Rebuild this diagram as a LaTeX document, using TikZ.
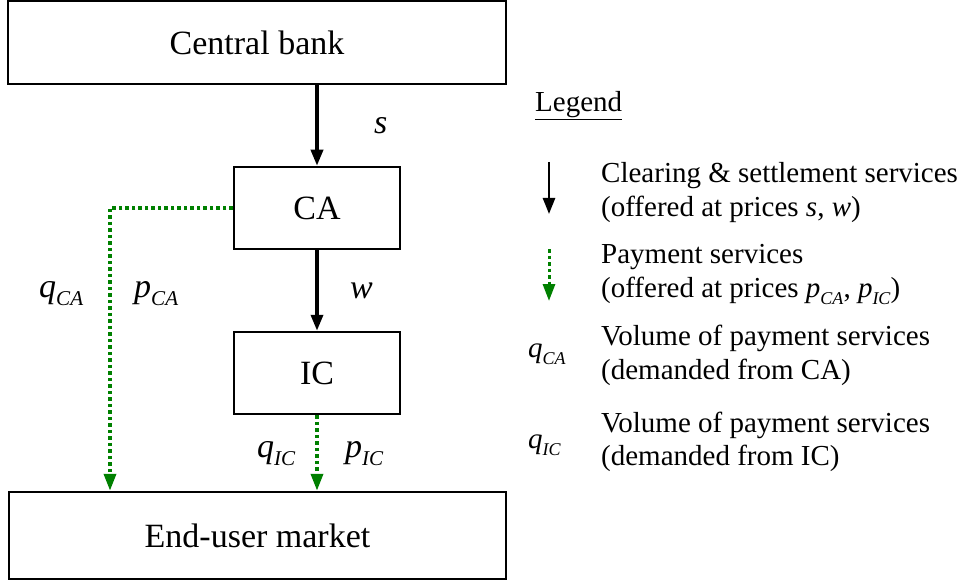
\documentclass[tikz,border=0pt]{standalone}
\usepackage{fontspec}
\setmainfont{Liberation Serif}
\usetikzlibrary{arrows.meta}
\definecolor{paygreen}{RGB}{0,128,0}
\newcommand{\pricevar}[2]{\textit{#1}\raisebox{-0.25em}{\scalebox{0.62}{\textit{#2}}}}

\begin{document}
\begin{tikzpicture}[x=1pt, y=-1pt,
    box/.style={draw, rectangle, line width=2.5pt, font=\fontsize{34}{34}\selectfont},
    clearing/.style={line width=3.5pt, -{Triangle[length=16pt,width=12pt]}},
    payment/.style={paygreen, line width=3.5pt, dash pattern=on 3.5pt off 3pt, -{Triangle[length=17pt,width=12pt]}},
    lab/.style={font=\fontsize{34}{34}\selectfont},
    legtext/.style={font=\fontsize{29}{34}\selectfont, anchor=base west, inner sep=0pt}]
        \useasboundingbox (0,0) rectangle (962,583);

        \node[box, minimum width=498pt, minimum height=83pt] (cb) at (257,42.5) {Central bank};
        \node[box, minimum width=166pt, minimum height=82pt] (ca) at (317,208) {CA};
        \node[box, minimum width=166pt, minimum height=82pt] (ic) at (317,373) {IC};
        \node[box, minimum width=497pt, minimum height=87pt] (market) at (257.5,535.5) {End-user market};

        \coordinate (bend) at (110,208);

        \draw[clearing] (ca.north |- cb.south) -- (ca.north) node[lab, pos=0.5, right=52pt] (s) {\textit{s}};
        \draw[clearing] (ca.south) -- (ic.north) node[lab, pos=0.5, right=28pt] (w) {\textit{w}};
        \draw[payment] (ca.west) -- (bend) -- (bend |- market.north);
        \draw[payment] (ic.south) -- (market.north -| ic.south);

        \node[lab, anchor=base west, inner sep=0pt] (qca) at (39,297) {\pricevar{q}{CA}};
        \node[lab, anchor=base west, inner sep=0pt] (pca) at (134,297) {\pricevar{p}{CA}};
        \node[lab, anchor=base west, inner sep=0pt] (qic) at (257,457) {\pricevar{q}{IC}};
        \node[lab, anchor=base west, inner sep=0pt] (pic) at (345,457) {\pricevar{p}{IC}};

        % legend
        \node[legtext] (legend) at (535,112) {\underline{Legend}};

        \coordinate (keytop1) at (549,162);
        \coordinate (keybot1) at (549,214);
        \draw[clearing, line width=2.5pt] (keytop1) -- (keybot1);
        \node[legtext] (cs1) at (601,183) {Clearing \& settlement services};
        \node[legtext] (cs2) at (601,216) {(offered at prices \textit{s}, \textit{w})};

        \coordinate (keytop2) at (549,249);
        \coordinate (keybot2) at (549,301);
        \draw[payment, line width=3pt] (keytop2) -- (keybot2);
        \node[legtext] (ps1) at (601,263) {Payment services};
        \node[legtext] (ps2) at (601,297) {(offered at prices \pricevar{p}{CA}, \pricevar{p}{IC})};

        \node[legtext] (keyqca) at (528,357) {\pricevar{q}{CA}};
        \node[legtext] (vca1) at (601,345) {Volume of payment services};
        \node[legtext] (vca2) at (601,379) {(demanded from CA)};

        \node[legtext] (keyqic) at (528,448) {\pricevar{q}{IC}};
        \node[legtext] (vic1) at (601,432) {Volume of payment services};
        \node[legtext] (vic2) at (601,465) {(demanded from IC)};
    \end{tikzpicture}
\end{document}
